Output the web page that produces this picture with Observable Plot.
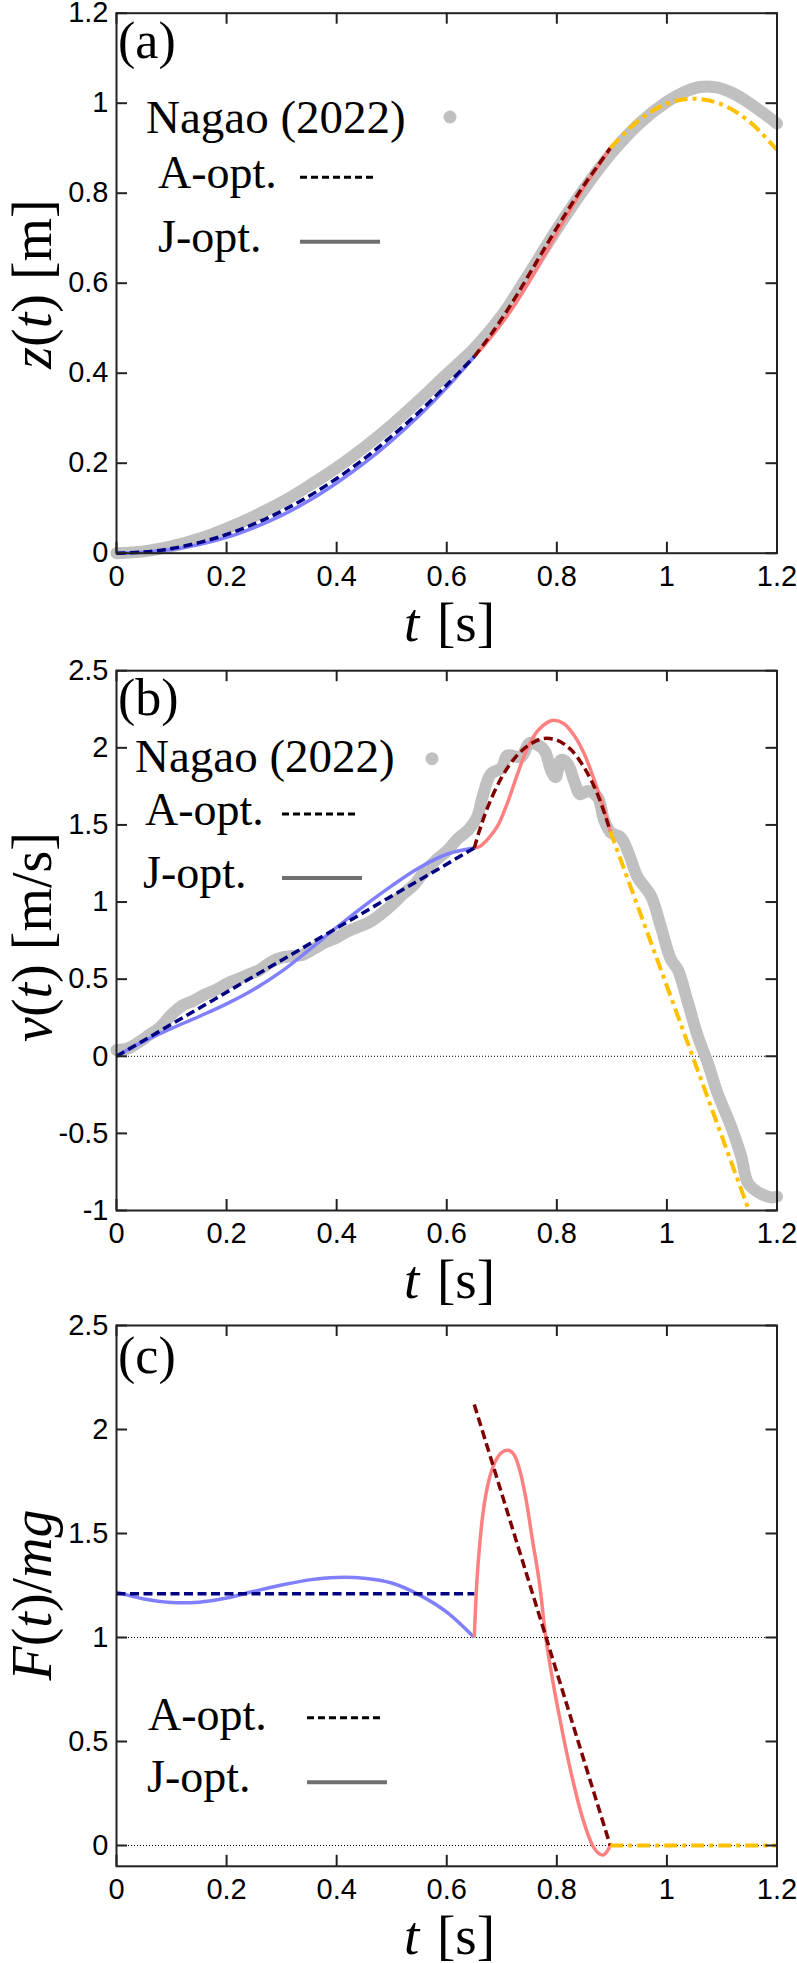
<!DOCTYPE html>
<html><head><meta charset="utf-8">
<script src="https://cdn.jsdelivr.net/npm/d3@7"></script>
<script src="https://cdn.jsdelivr.net/npm/@observablehq/plot@0.6"></script>
<style>
body{margin:0;background:#fff;}
#chart{width:797px;}
#chart svg{display:block;}
</style></head><body><div id="chart"></div>
<script>
// ---------- tick values ----------
const xTicks = [0, 0.2, 0.4, 0.6, 0.8, 1, 1.2];
const zTicks = [0, 0.2, 0.4, 0.6, 0.8, 1, 1.2];
const vTicks = [-1, -0.5, 0, 0.5, 1, 1.5, 2, 2.5];
const fTicks = [0, 0.5, 1, 1.5, 2, 2.5];

// ---------- (a) z(t) ----------
const nagaoTz = [0,0.05,0.1,0.15,0.2,0.25,0.3,0.35,0.4,0.45,0.5,0.55,0.6,0.65,0.7,0.75,0.8,0.85,0.9,0.95,1.0,1.03,1.06,1.09,1.12,1.15,1.2];
const nagaoZ  = [0.0,0.004,0.015,0.032,0.055,0.082,0.113,0.15,0.19,0.235,0.285,0.34,0.398,0.455,0.528,0.622,0.72,0.81,0.89,0.955,1.003,1.024,1.036,1.035,1.022,1.0,0.955];
const tPhase1 = [0,0.05,0.1,0.15,0.2,0.25,0.3,0.35,0.4,0.45,0.5,0.55,0.6,0.65];
const zJopt1  = [0,0.002,0.008,0.019,0.035,0.057,0.084,0.117,0.156,0.2,0.25,0.306,0.368,0.437];
const zAopt1  = [0,0.0026,0.0104,0.0234,0.0415,0.065,0.0935,0.127,0.166,0.21,0.26,0.314,0.374,0.437];
const tPhase2 = [0.65,0.675,0.7,0.725,0.75,0.775,0.8,0.825,0.85,0.875,0.897];
const zJopt2  = [0.437,0.472,0.511,0.555,0.604,0.657,0.711,0.764,0.814,0.859,0.9];
const zAopt2  = [0.437,0.477,0.521,0.569,0.62,0.672,0.723,0.772,0.819,0.862,0.9];
const tPhase3 = [0.897,0.95,1.0,1.05,1.1,1.15,1.2];
const zFall   = [0.9,0.963,0.999,1.01,0.997,0.959,0.896];

// ---------- (b) v(t) ----------
const nagaoTv = [0,0.02,0.04,0.06,0.08,0.1,0.12,0.14,0.16,0.18,0.2,0.22,0.24,0.26,0.28,0.3,0.32,0.34,0.36,0.38,0.4,0.42,0.44,0.46,0.48,0.5,0.52,0.54,0.56,0.58,0.6,0.62,0.64,0.655,0.665,0.68,0.7,0.71,0.735,0.75,0.765,0.778,0.79,0.798,0.807,0.819,0.832,0.842,0.856,0.874,0.886,0.898,0.916,0.93,0.947,0.971,0.989,1.007,1.02,1.038,1.056,1.074,1.092,1.116,1.135,1.147,1.165,1.19,1.2];
const nagaoV  = [0.04,0.05,0.09,0.14,0.19,0.27,0.33,0.36,0.4,0.43,0.47,0.5,0.53,0.56,0.61,0.64,0.65,0.66,0.7,0.74,0.77,0.81,0.84,0.87,0.92,0.98,1.05,1.11,1.2,1.27,1.33,1.41,1.47,1.55,1.68,1.83,1.87,1.95,1.94,2.03,2.02,1.98,1.85,1.81,1.92,1.9,1.78,1.7,1.72,1.68,1.53,1.45,1.42,1.32,1.16,1.04,0.84,0.63,0.56,0.35,0.13,-0.04,-0.24,-0.45,-0.65,-0.82,-0.88,-0.915,-0.91];
const vJopt1  = [0,0.098,0.18,0.258,0.34,0.435,0.55,0.69,0.835,0.975,1.105,1.222,1.31,1.35];
const tAopt1  = [0,0.65];
const vAopt1  = [0,1.35];
const tJopt2v = [0.65,0.66,0.675,0.692,0.71,0.7285,0.747,0.765,0.783,0.795,0.813,0.8315,0.85,0.868,0.886,0.897];
const vJopt2  = [1.35,1.36,1.41,1.49,1.64,1.83,2.0,2.11,2.165,2.178,2.156,2.08,1.96,1.79,1.6,1.46];
const tAopt2v = [0.65,0.66,0.675,0.7,0.725,0.75,0.775,0.8,0.825,0.85,0.875,0.897];
const vAopt2  = [1.35,1.47,1.62,1.81,1.94,2.02,2.06,2.05,1.99,1.87,1.69,1.46];
const tFallV  = [0.897,1.149];
const vFall   = [1.46,-1.0];

// ---------- (c) F(t)/mg ----------
const fJopt1  = [1.218,1.185,1.168,1.17,1.19,1.222,1.252,1.277,1.289,1.285,1.262,1.205,1.122,1.0];
const fAopt1  = [1.21,1.21];
const tJopt2F = [0.65,0.655,0.66,0.665,0.672,0.68,0.69,0.7,0.712,0.722,0.732,0.743,0.755,0.768,0.78,0.792,0.804,0.816,0.8285,0.847,0.865,0.877,0.885,0.892,0.897];
const fJopt2  = [1.0,1.28,1.45,1.58,1.7,1.79,1.855,1.89,1.9,1.88,1.81,1.68,1.48,1.27,1.0,0.8,0.63,0.47,0.32,0.13,0.0,-0.04,-0.045,-0.025,0.0];
const tAopt2F = [0.65,0.897];
const fAopt2  = [2.12,0.0];
const tFallF  = [0.897,1.2];
const fFall   = [0,0];

// ---------- styling ----------
const W = 797, ML = 116, MR = 20.5;
const COL = {gray:"#c0c0c0", blueJ:"#8080ff", navyA:"#000080", redJ:"#ff8080", darkA:"#800000", gold:"#ffc000", frame:"#222"};
const SANS = "'Liberation Sans', Arial, Helvetica, sans-serif";
const SERIF = "'Liberation Serif', 'Times New Roman', Times, serif";
const DASH = "9,4.5", DASHDOT = "13,5,4,5";

const pts = (ts, ys) => ts.map((t, i) => ({t, y: ys[i]}));

function panel(cfg) {
  const innerW = W - ML - MR;
  const innerH = cfg.height - cfg.mt - cfg.mb;
  const marks = [];
  for (const r of cfg.rules) marks.push(Plot.ruleY([r], {stroke:"#000", strokeWidth:1, strokeDasharray:"1,2"}));
  for (const s of cfg.series) {
    marks.push(Plot.line(pts(s.t, s.y), {x:"t", y:"y", stroke:s.stroke, strokeWidth:s.w,
      strokeDasharray:s.dash, curve:s.curve || "catmull-rom", strokeLinecap:s.cap || "butt", strokeLinejoin:"round"}));
  }
  marks.push(Plot.frame({stroke:COL.frame, strokeWidth:2}));
  marks.push(Plot.tickX(xTicks, {x:d=>d, insetTop: innerH - 11, stroke:COL.frame, strokeWidth:2}));
  marks.push(Plot.tickX(xTicks, {x:d=>d, insetBottom: innerH - 11, stroke:COL.frame, strokeWidth:2}));
  marks.push(Plot.tickY(cfg.yticks, {y:d=>d, insetRight: innerW - 11, stroke:COL.frame, strokeWidth:2}));
  marks.push(Plot.tickY(cfg.yticks, {y:d=>d, insetLeft: innerW - 11, stroke:COL.frame, strokeWidth:2}));
  marks.push(Plot.text(xTicks, {x:d=>d, frameAnchor:"bottom", dy:23.5, text:d=>String(d), fontSize:29, fill:"#000", lineAnchor:"middle", textAnchor:"middle"}));
  marks.push(Plot.text(cfg.yticks, {y:d=>d, frameAnchor:"left", dx:-8, text:d=>String(d), fontSize:29, fill:"#000", lineAnchor:"middle", textAnchor:"end"}));
  const svg = Plot.plot({
    width: W, height: cfg.height,
    marginLeft: ML, marginRight: MR, marginTop: cfg.mt, marginBottom: cfg.mb,
    x: {domain:[0, 1.2], axis: null},
    y: {domain: cfg.ydomain, axis: null},
    style: {fontFamily: SANS, fontSize: "29px", color: "#000", background: "#fff", overflow: "visible"},
    marks
  });
  return svg;
}

function richText(sel, x, y, parts, size, opts = {}) {
  const t = sel.append("text")
    .attr("font-family", SERIF).attr("font-size", size).attr("fill", "#000")
    .attr("text-anchor", opts.anchor || "start");
  if (opts.rotate) t.attr("transform", `translate(${x},${y}) rotate(-90)`);
  else t.attr("x", x).attr("y", y);
  for (const [txt, it] of parts) {
    const ts = t.append("tspan").text(txt);
    if (it) ts.attr("font-style", "italic");
  }
  return t;
}

function decorate(svg, d) {
  const s = d3.select(svg);
  richText(s, 404, d.xlabY, [["t", true]], 55);
  richText(s, 437, d.xlabY, [["[s]", false]], 55);
  richText(s, 51, d.ylabY, d.ylab, 56, {anchor:"middle", rotate:true});
  richText(s, 118, d.panelY, [[d.panel, false]], 52);
  const g = s.append("g");
  if (d.nagao) {
    richText(g, d.nagao.x, d.nagao.y, [["Nagao (2022)", false]], 47);
    g.append("circle").attr("cx", d.nagao.dx).attr("cy", d.nagao.dy).attr("r", 6.5).attr("fill", COL.gray);
  }
  richText(g, d.aopt.x, d.aopt.y, [["A-opt.", false]], 46);
  g.append("line").attr("x1", d.aopt.l1).attr("x2", d.aopt.l2).attr("y1", d.aopt.ly).attr("y2", d.aopt.ly)
    .attr("stroke", "#000").attr("stroke-width", 3).attr("stroke-dasharray", "7,4");
  richText(g, d.jopt.x, d.jopt.y, [["J-opt.", false]], 46);
  g.append("line").attr("x1", d.jopt.l1).attr("x2", d.jopt.l2).attr("y1", d.jopt.ly).attr("y2", d.jopt.ly)
    .attr("stroke", "#707070").attr("stroke-width", 4);
}

const chart = document.getElementById("chart");

// Panel (a)
const svgA = panel({
  height: 655, mt: 12.7, mb: 102.3, ydomain: [0, 1.2], yticks: zTicks, rules: [],
  series: [
    {t: nagaoTz, y: nagaoZ, stroke: COL.gray, w: 12, cap: "round"},
    {t: tPhase1, y: zJopt1, stroke: COL.blueJ, w: 3.5},
    {t: tPhase2, y: zJopt2, stroke: COL.redJ, w: 3.5},
    {t: tPhase1, y: zAopt1, stroke: COL.navyA, w: 3.5, dash: DASH},
    {t: tPhase2, y: zAopt2, stroke: COL.darkA, w: 3.5, dash: DASH},
    {t: tPhase3, y: zFall, stroke: COL.gold, w: 4, dash: DASHDOT}
  ]
});
chart.appendChild(svgA);
decorate(svgA, {
  xlabY: 641, ylabY: 284, panelY: 58, panel: "(a)",
  ylab: [["z", true], ["(", false], ["t", true], [") [m]", false]],
  nagao: {x: 146, y: 132.7, dx: 450, dy: 117},
  aopt: {x: 158, y: 187.5, l1: 300, l2: 377, ly: 177.3},
  jopt: {x: 158, y: 251.7, l1: 300, l2: 380, ly: 241.7}
});

// Panel (b)
const svgB = panel({
  height: 655, mt: 15.2, mb: 100, ydomain: [-1, 2.5], yticks: vTicks, rules: [0],
  series: [
    {t: nagaoTv, y: nagaoV, stroke: COL.gray, w: 12, cap: "round"},
    {t: tPhase1, y: vJopt1, stroke: COL.blueJ, w: 3.5},
    {t: tJopt2v, y: vJopt2, stroke: COL.redJ, w: 3.5},
    {t: tAopt1, y: vAopt1, stroke: COL.navyA, w: 3.5, dash: DASH, curve: "linear"},
    {t: tAopt2v, y: vAopt2, stroke: COL.darkA, w: 3.5, dash: DASH},
    {t: tFallV, y: vFall, stroke: COL.gold, w: 4, dash: DASHDOT, curve: "linear"}
  ]
});
chart.appendChild(svgB);
decorate(svgB, {
  xlabY: 643.3, ylabY: 282, panelY: 60, panel: "(b)",
  ylab: [["v", true], ["(", false], ["t", true], [") [m/s]", false]],
  nagao: {x: 135, y: 116.7, dx: 432, dy: 103.7},
  aopt: {x: 145, y: 170, l1: 282, l2: 358, ly: 159},
  jopt: {x: 143, y: 233, l1: 282, l2: 362, ly: 223}
});

// Panel (c)
const svgC = panel({
  height: 653, mt: 15, mb: 97.2, ydomain: [-0.1, 2.5], yticks: fTicks, rules: [0, 1],
  series: [
    {t: tPhase1, y: fJopt1, stroke: COL.blueJ, w: 3.5},
    {t: tJopt2F, y: fJopt2, stroke: COL.redJ, w: 3.5},
    {t: tAopt1, y: fAopt1, stroke: COL.navyA, w: 3.5, dash: DASH, curve: "linear"},
    {t: tAopt2F, y: fAopt2, stroke: COL.darkA, w: 3.5, dash: DASH, curve: "linear"},
    {t: tFallF, y: fFall, stroke: COL.gold, w: 4, dash: DASHDOT, curve: "linear"}
  ]
});
chart.appendChild(svgC);
decorate(svgC, {
  xlabY: 644, ylabY: 285, panelY: 63, panel: "(c)",
  ylab: [["F", true], ["(", false], ["t", true], [")/", false], ["mg", true]],
  aopt: {x: 148, y: 420, l1: 307, l2: 383, ly: 407.7},
  jopt: {x: 147, y: 481.7, l1: 307, l2: 387, ly: 472.3}
});
</script>
</body></html>
